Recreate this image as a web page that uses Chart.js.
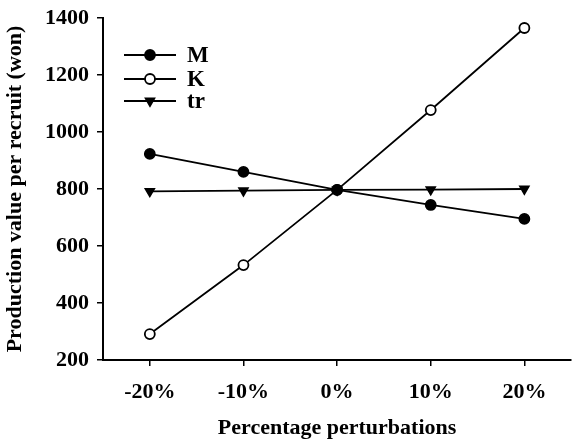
<!DOCTYPE html>
<html>
<head>
<meta charset="utf-8">
<script src="https://cdn.jsdelivr.net/npm/chart.js@4/dist/chart.umd.min.js"></script>
<style>
  html, body { margin: 0; padding: 0; background: #fff; }
  #wrap { width: 578px; height: 442px; position: relative; }
</style>
</head>
<body>
<div id="wrap"><canvas id="chart"></canvas></div>
<script>
const categories = ['-20%', '-10%', '0%', '10%', '20%'];
const mValues = [923, 860, 797, 744, 695];
const kValues = [291, 533, 797, 1077, 1365];
const trValues = [792, 794, 797, 798, 800];
const yTicks = [200, 400, 600, 800, 1000, 1200, 1400];

const font = 'Liberation Serif, Times New Roman, serif';

// legend drawn inside the plot, top-left
const insideLegend = {
    id: 'insideLegend',
    afterDraw(chart) {
        const ctx = chart.ctx;
        const rows = [55, 79, 101];
        chart.data.datasets.forEach((ds, i) => {
            const y = rows[i];
            ctx.save();
            ctx.strokeStyle = '#000';
            ctx.lineWidth = 1.8;
            ctx.beginPath();
            ctx.moveTo(124, y);
            ctx.lineTo(176, y);
            ctx.stroke();
            ctx.fillStyle = ds.pointBackgroundColor;
            Chart.helpers.drawPoint(ctx, {
                pointStyle: ds.pointStyle,
                radius: ds.pointRadius,
                rotation: ds.pointRotation || 0,
                borderWidth: 1.8
            }, 150, y);
            ctx.fillStyle = '#000';
            ctx.font = 'bold 23px ' + font;
            ctx.textBaseline = 'middle';
            ctx.fillText(ds.label, 187, y + 1);
            ctx.restore();
        });
    }
};

const common = {
    borderColor: '#000',
    borderWidth: 1.8,
    pointRadius: 5,
    pointHoverRadius: 5,
    pointBorderColor: '#000',
    pointBorderWidth: 1.8,
    tension: 0
};

new Chart(document.getElementById('chart'), {
    type: 'line',
    data: {
        labels: categories,
        datasets: [
            Object.assign({ label: 'M', data: mValues, pointStyle: 'circle', pointBackgroundColor: '#000' }, common),
            Object.assign({ label: 'K', data: kValues, pointStyle: 'circle', pointBackgroundColor: '#fff' }, common),
            Object.assign({ label: 'tr', data: trValues, pointStyle: 'triangle', pointRotation: 180, pointBackgroundColor: '#000' }, common)
        ]
    },
    options: {
        responsive: true,
        maintainAspectRatio: false,
        animation: false,
        layout: { padding: { top: 18, right: 0, left: 0, bottom: 0 } },
        scales: {
            x: {
                offset: true,
                grid: {
                    offset: false,
                    drawOnChartArea: false,
                    drawTicks: true,
                    tickLength: 6,
                    color: '#000',
                    lineWidth: 1.5
                },
                border: { display: true, color: '#000', width: 2 },
                ticks: {
                    color: '#000',
                    font: { family: font, size: 22, weight: 'bold' },
                    padding: 13
                },
                title: {
                    display: true,
                    text: 'Percentage perturbations',
                    color: '#000',
                    font: { family: font, size: 22, weight: 'bold' },
                    padding: { top: 1, bottom: 0 }
                },
                afterFit(scale) {
                    scale.height = 82;
                    scale.paddingLeft = 0;
                    scale.paddingRight = 0;
                }
            },
            y: {
                min: 200,
                max: 1400,
                afterBuildTicks(scale) { scale.ticks = yTicks.map(v => ({ value: v })); },
                grid: {
                    drawOnChartArea: false,
                    drawTicks: true,
                    tickLength: 6,
                    color: '#000',
                    lineWidth: 1.5
                },
                border: { display: true, color: '#000', width: 2 },
                ticks: {
                    color: '#000',
                    font: { family: font, size: 22, weight: 'bold' },
                    padding: 8,
                    callback: v => String(v)
                },
                title: {
                    display: true,
                    text: 'Production value per recruit (won)',
                    color: '#000',
                    font: { family: font, size: 22, weight: 'bold' },
                    padding: { bottom: 4, top: 2 }
                },
                afterFit(scale) {
                    scale.width = 103;
                    scale.paddingTop = 0;
                    scale.paddingBottom = 0;
                }
            }
        },
        plugins: {
            legend: { display: false },
            tooltip: { enabled: false }
        }
    },
    plugins: [insideLegend]
});
</script>
</body>
</html>
